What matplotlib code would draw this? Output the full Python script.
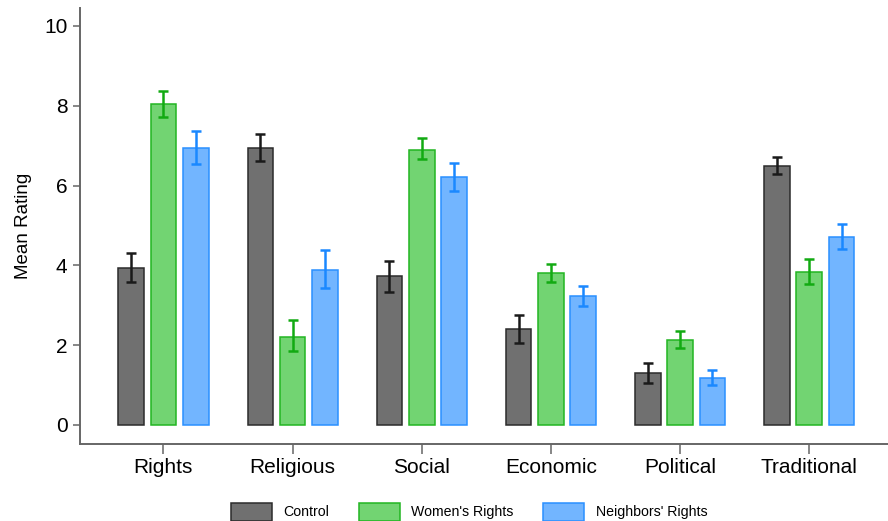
import numpy as np
import matplotlib
matplotlib.use("Agg")
import matplotlib.pyplot as plt
from matplotlib.patches import Patch

plt.rcParams['font.family'] = ['Liberation Sans', 'DejaVu Sans']

categories = ['Rights', 'Religious', 'Social', 'Economic', 'Political', 'Traditional']
groups = ['Control', "Women's Rights", "Neighbors' Rights"]

# mean ratings and CI bounds per group
control_mean = [3.94, 6.94, 3.72, 2.41, 1.29, 6.49]
control_lo = [3.59, 6.62, 3.34, 2.06, 1.05, 6.29]
control_hi = [4.30, 7.29, 4.10, 2.76, 1.55, 6.71]

women_mean = [8.04, 2.21, 6.90, 3.80, 2.13, 3.83]
women_lo = [7.71, 1.84, 6.66, 3.58, 1.92, 3.53]
women_hi = [8.38, 2.62, 7.19, 4.04, 2.36, 4.15]

neighbors_mean = [6.94, 3.89, 6.21, 3.22, 1.18, 4.70]
neighbors_lo = [6.54, 3.42, 5.87, 2.99, 0.99, 4.41]
neighbors_hi = [7.37, 4.38, 6.57, 3.48, 1.37, 5.04]

fills = ['#707070', '#72D472', '#72B5FF']
edges = ['#2b2b2b', '#22B522', '#2A90FF']
errcols = ['#1a1a1a', '#12AA12', '#1A88FF']

fig = plt.figure(figsize=(8.88, 5.21), dpi=100)
ax = fig.add_axes([80 / 888, 1 - 444 / 521, 808 / 888, 436 / 521])

x = np.arange(len(categories))
offset = 0.25
width = 0.198
series = [(control_mean, control_lo, control_hi),
          (women_mean, women_lo, women_hi),
          (neighbors_mean, neighbors_lo, neighbors_hi)]

for i, (m, lo, hi) in enumerate(series):
    m = np.array(m)
    xs = x + (i - 1) * offset
    ax.bar(xs, m, width, color=fills[i], edgecolor=edges[i], linewidth=1.1, zorder=2)
    yerr = [m - np.array(lo), np.array(hi) - m]
    ax.errorbar(xs, m, yerr=yerr, fmt='none', ecolor=errcols[i],
                elinewidth=1.8, capsize=3.5, capthick=1.8, zorder=3)

ax.set_xlim(-0.646, 5.61)
ax.set_ylim(-0.48, 10.45)
ax.set_yticks([0, 2, 4, 6, 8, 10])
ax.set_xticks(x)
ax.set_xticklabels(categories, fontsize=15)
ax.tick_params(axis='y', labelsize=15, length=5, width=1.1, color='#666666', pad=4)
ax.tick_params(axis='x', length=7, width=1.1, color='#666666', pad=3)
ax.set_ylabel('Mean Rating', fontsize=13.5, labelpad=9)

for s in ['top', 'right']:
    ax.spines[s].set_visible(False)
for s in ['left', 'bottom']:
    ax.spines[s].set_color('#666666')
    ax.spines[s].set_linewidth(1.4)

handles = [Patch(facecolor=fills[i], edgecolor=edges[i], linewidth=1.1, label=groups[i])
           for i in range(3)]
fig.legend(handles=handles, loc='upper center', bbox_to_anchor=(469 / 888, 1 - 497 / 521),
           ncol=3, frameon=False, fontsize=10.2, handlelength=2.9, handleheight=1.6,
           columnspacing=2.1, handletextpad=0.8, borderaxespad=0)

fig.savefig('out.png', dpi=100)
